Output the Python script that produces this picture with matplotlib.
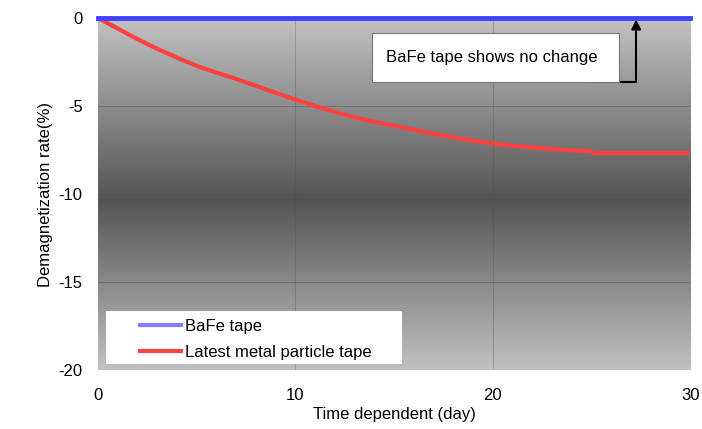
import numpy as np
import matplotlib
matplotlib.use("Agg")
import matplotlib.pyplot as plt
from matplotlib.patches import Rectangle
from matplotlib.colors import LinearSegmentedColormap

plt.rcParams["font.family"] = ["Liberation Sans", "DejaVu Sans"]
plt.rcParams["axes.unicode_minus"] = False

# ----------------------------
# DATA
# ----------------------------
days_mp = [0, 1, 2, 3, 4, 5, 6, 7, 8, 9, 10, 11, 12, 13, 14, 15, 16, 17, 18, 19,
           20, 21, 22, 23, 24, 25, 25.1, 26, 27, 28, 29, 30]
rate_mp = [0, -0.6, -1.2, -1.75, -2.25, -2.72, -3.1, -3.46, -3.85, -4.25, -4.63,
           -5.0, -5.33, -5.65, -5.9, -6.12, -6.35, -6.58, -6.78, -6.97, -7.13,
           -7.25, -7.35, -7.44, -7.52, -7.58, -7.67, -7.67, -7.67, -7.67, -7.67, -7.67]
days_bafe = [0, 10, 20, 30]
rate_bafe = [0, 0, 0, 0]

x_ticks = [0, 10, 20, 30]
y_ticks = [0, -5, -10, -15, -20]

label_bafe = "BaFe tape"
label_mp = "Latest metal particle tape"
note_text = "BaFe tape shows no change"

# ----------------------------
# CHART
# ----------------------------
fig = plt.figure(figsize=(7.02, 4.29), dpi=100)
ax = fig.add_axes([0.1396, 0.1375, 0.8434, 0.8205])
ax.set_xlim(0, 30)
ax.set_ylim(-20, 0)

# grey background gradient: light at top/bottom, dark in the middle
grad_cmap = LinearSegmentedColormap.from_list(
    "bg", [(0.0, (0.76, 0.76, 0.76)), (0.515, (0.33, 0.33, 0.33)), (1.0, (0.755, 0.755, 0.755))]
)
grad = np.linspace(1, 0, 256).reshape(-1, 1)
ax.imshow(grad, cmap=grad_cmap, aspect="auto", extent=(0, 30, -20, 0),
          origin="lower", zorder=0, vmin=0, vmax=1)

for yv in [-5, -10, -15]:
    ax.axhline(yv, color="#505050", lw=0.8, alpha=0.4, zorder=1)
for xv in [10, 20]:
    ax.axvline(xv, color="#505050", lw=0.8, alpha=0.3, zorder=1)

ax.plot(days_mp, rate_mp, color="#ff4040", lw=3, zorder=4, solid_capstyle="butt")
ax.plot(days_bafe, rate_bafe, color="#4040ff", lw=3.5, zorder=5, clip_on=False)

for s in ax.spines.values():
    s.set_visible(False)

ax.set_xticks(x_ticks)
ax.set_yticks(y_ticks)
ax.tick_params(length=0, labelsize=12)
ax.tick_params(axis="x", pad=13)
ax.tick_params(axis="y", pad=11)

ax.set_xlabel("Time dependent (day)", fontsize=12, labelpad=3)
ax.set_ylabel("Demagnetization rate(%)", fontsize=12, labelpad=4)

# ----------------------------
# LEGEND
# ----------------------------
ax.add_patch(Rectangle((0.0135, 0.017), 0.5, 0.151, transform=ax.transAxes,
                       facecolor="white", edgecolor="none", zorder=6))
leg_handles = [
    plt.Line2D([], [], color="#8080ff", lw=3),
    plt.Line2D([], [], color="#ff4040", lw=3),
]
leg = ax.legend(leg_handles, [label_bafe, label_mp], loc="center left",
                bbox_to_anchor=(0.0709, 0.0866), frameon=False, fontsize=12,
                handlelength=2.45, handletextpad=0.25, labelspacing=0.68,
                borderpad=0, borderaxespad=0)
leg.set_zorder(7)

# ----------------------------
# ANNOTATION
# ----------------------------
ax.annotate("", xy=(27.27, -0.08), xytext=(24.8, -3.64),
            arrowprops=dict(arrowstyle="-|>", connectionstyle="angle,angleA=0,angleB=90,rad=0",
                            color="black", lw=1.5, shrinkA=0, shrinkB=0, mutation_scale=14),
            zorder=6)
ax.add_patch(Rectangle((13.88, -3.64), 12.52, 2.78, facecolor="white",
                       edgecolor="#777777", lw=0.8, zorder=7))
ax.text(14.6, -2.25, note_text, fontsize=12, va="center", ha="left", zorder=8)

fig.savefig("out.png", dpi=100)
